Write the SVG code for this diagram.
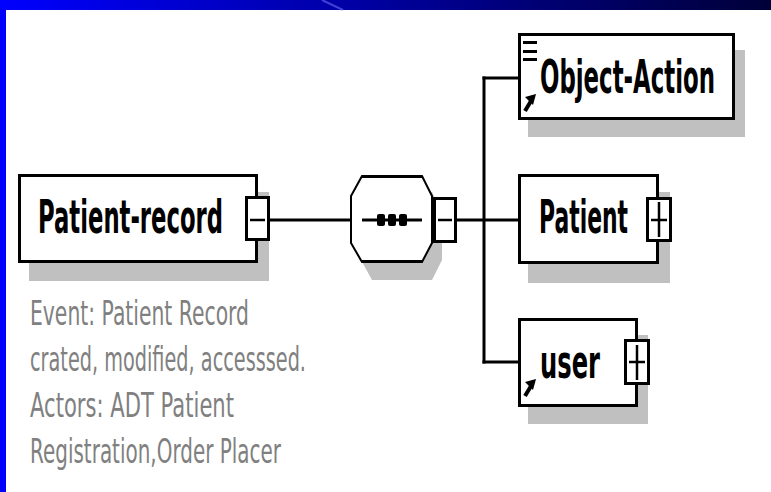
<svg xmlns="http://www.w3.org/2000/svg" width="771" height="492" viewBox="0 0 771 492">
<defs>
<linearGradient id="bar" x1="0" y1="0" x2="1" y2="0">
<stop offset="0" stop-color="#0000ff"/>
<stop offset="1" stop-color="#000038"/>
</linearGradient>
<style>
.box{fill:#fff;stroke:#000;stroke-width:3}
.btn{fill:#fff;stroke:#000;stroke-width:3}
.shadow{fill:#c0c0c0}
.sign{stroke:#000;stroke-width:2.5;fill:none}
.conn{stroke:#000;stroke-width:3;fill:none;stroke-linecap:square}
.lbl{font-family:"DejaVu Sans","Liberation Sans",sans-serif;font-weight:bold;font-size:46px;fill:#000}
.note{font-family:"DejaVu Sans","Liberation Sans",sans-serif;font-size:34px;fill:#808080}
.icon{fill:#000}
</style>
</defs>
<rect x="0" y="0" width="771" height="492" fill="#fff"/>
<rect x="0" y="0" width="771" height="10" fill="url(#bar)"/>
<line x1="322" y1="0" x2="343" y2="10" stroke="#7f7fff" stroke-opacity="0.5" stroke-width="2"/>
<rect x="0" y="0" width="6" height="492" fill="#0000ff"/>

<g id="connectors">
<line class="conn" x1="270" y1="220" x2="351" y2="220"/>
<line class="conn" x1="457" y1="220" x2="518" y2="220"/>
<line class="conn" x1="484" y1="78" x2="484" y2="362"/>
<line class="conn" x1="484" y1="78" x2="518" y2="78"/>
<line class="conn" x1="484" y1="362" x2="518" y2="362"/>
</g>

<g id="node-patient-record">
<rect class="shadow" x="29" y="192" width="240" height="89"/>
<rect class="box" x="19.5" y="175.5" width="237" height="86"/>
<text class="lbl" x="38" y="233" textLength="185" lengthAdjust="spacingAndGlyphs">Patient-record</text>
<rect class="btn" x="246.5" y="197.5" width="22" height="42"/>
<line class="sign" x1="250" y1="220" x2="265" y2="220"/>
</g>

<g id="node-sequence">
<polygon class="shadow" points="372,192 432,192 442,213 442,260 432,280 372,280 361,260 361,213"/>
<polygon points="362,176 422,176 432,196 432,243 422,262 362,262 351,243 351,196" fill="#fff" stroke="#000" stroke-width="2"/>
<line x1="362" y1="176.5" x2="422" y2="176.5" stroke="#000" stroke-width="3"/>
<line x1="362" y1="261.5" x2="422" y2="261.5" stroke="#000" stroke-width="3"/>
<line x1="362" y1="220" x2="422" y2="220" stroke="#000" stroke-width="3"/>
<rect class="icon" x="377" y="214" width="8" height="12" rx="2"/>
<rect class="icon" x="388" y="214" width="8" height="12" rx="2"/>
<rect class="icon" x="399" y="214" width="8" height="12" rx="2"/>
<rect class="btn" x="434.5" y="198.5" width="21" height="43"/>
<line class="sign" x1="438" y1="220" x2="452" y2="220"/>
</g>

<g id="node-object-action">
<rect class="shadow" x="528" y="50" width="217" height="87"/>
<rect class="box" x="519.5" y="34.5" width="214" height="84"/>
<rect class="icon" x="523" y="41" width="14" height="3"/>
<rect class="icon" x="523" y="50" width="14" height="3"/>
<rect class="icon" x="523" y="58" width="14" height="3"/>
<line x1="525" y1="111" x2="531" y2="101" stroke="#000" stroke-width="4"/>
<polygon class="icon" points="536,94 525,97 533,105"/>
<text class="lbl" x="540" y="93" textLength="175" lengthAdjust="spacingAndGlyphs">Object-Action</text>
</g>

<g id="node-patient">
<rect class="shadow" x="528" y="192" width="142" height="91"/>
<rect class="box" x="519.5" y="175.5" width="138" height="87"/>
<text class="lbl" x="539" y="233" textLength="89" lengthAdjust="spacingAndGlyphs">Patient</text>
<rect class="btn" x="647.5" y="198.5" width="23" height="42"/>
<line class="sign" x1="651" y1="220" x2="667" y2="220"/>
<line class="sign" x1="659" y1="202" x2="659" y2="237"/>
</g>

<g id="node-user">
<rect class="shadow" x="528" y="335" width="120" height="89"/>
<rect class="box" x="519.5" y="319.5" width="117" height="86"/>
<line x1="525" y1="396" x2="531" y2="386" stroke="#000" stroke-width="4"/>
<polygon class="icon" points="536,379 525,382 533,390"/>
<text class="lbl" x="540" y="378" textLength="60" lengthAdjust="spacingAndGlyphs">user</text>
<rect class="btn" x="625.5" y="340.5" width="23" height="43"/>
<line class="sign" x1="629" y1="362" x2="645" y2="362"/>
<line class="sign" x1="637" y1="345" x2="637" y2="380"/>
</g>

<g id="note">
<text class="note" x="30" y="325" textLength="219" lengthAdjust="spacingAndGlyphs">Event: Patient Record</text>
<text class="note" x="30" y="371" textLength="276" lengthAdjust="spacingAndGlyphs">crated, modified, accesssed.</text>
<text class="note" x="30" y="417" textLength="204" lengthAdjust="spacingAndGlyphs">Actors: ADT Patient</text>
<text class="note" x="30" y="463" textLength="251" lengthAdjust="spacingAndGlyphs">Registration,Order Placer</text>
</g>
</svg>
